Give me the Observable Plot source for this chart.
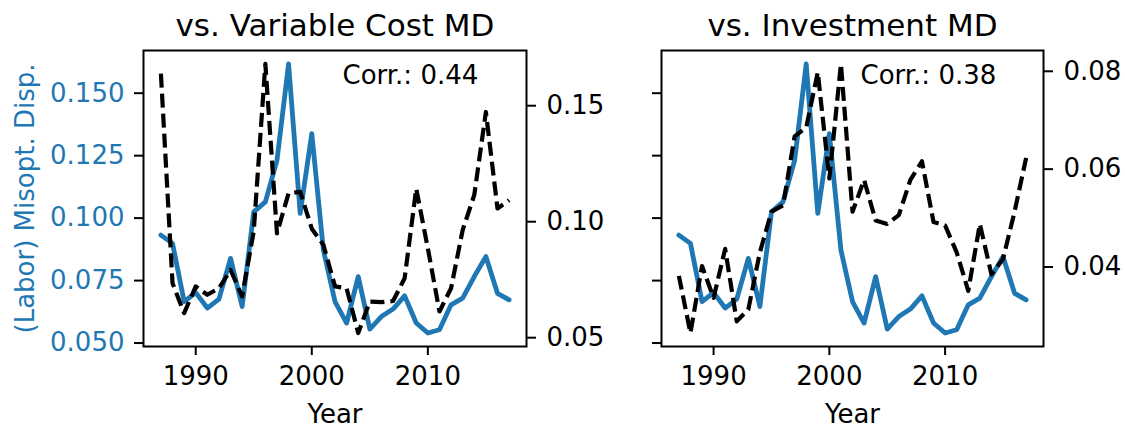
<!DOCTYPE html>
<html><head><meta charset="utf-8">
<script src="https://cdn.jsdelivr.net/npm/d3@7"></script>
<script src="https://cdn.jsdelivr.net/npm/@observablehq/plot@0.6"></script>
<style>
body{margin:0;background:#fff;}
#chart{position:relative;width:1125px;height:428px;background:#fff;}
#chart svg{position:absolute;left:0;top:0;}
</style></head><body><div id="chart"></div>
<script>
// ---- data ----
const years = [1987,1988,1989,1990,1991,1992,1993,1994,1995,1996,1997,1998,1999,2000,2001,2002,2003,2004,2005,2006,2007,2008,2009,2010,2011,2012,2013,2014,2015,2016,2017];
const misoptDisp = [0.0932,0.0899,0.0666,0.0702,0.0640,0.0676,0.0839,0.0646,0.1025,0.1065,0.1231,0.1617,0.1019,0.1338,0.0872,0.0666,0.0580,0.0766,0.0556,0.0606,0.0636,0.0689,0.0580,0.0540,0.0553,0.0653,0.0680,0.0766,0.0846,0.0699,0.0673];
const variableCostMD = [0.1638,0.0735,0.0606,0.0721,0.0685,0.0713,0.0792,0.0678,0.0960,0.1680,0.0950,0.1122,0.1129,0.0970,0.0900,0.0721,0.0713,0.0520,0.0656,0.0653,0.0658,0.0756,0.1143,0.0885,0.0613,0.0713,0.0964,0.1115,0.1473,0.1057,0.1093];
const investmentMD = [0.0382,0.0265,0.0402,0.0337,0.0437,0.0289,0.0313,0.0430,0.0513,0.0526,0.0667,0.0685,0.0798,0.0581,0.0815,0.0513,0.0578,0.0495,0.0488,0.0506,0.0578,0.0616,0.0492,0.0485,0.0430,0.0351,0.0488,0.0385,0.0416,0.0513,0.0623];
const titles = ["vs. Variable Cost MD", "vs. Investment MD"];
const corrs = [0.44, 0.38];
const xTicks = [1990, 2000, 2010];
const leftTicks = [0.05, 0.075, 0.10, 0.125, 0.15];
const rightTicksVC = [0.05, 0.10, 0.15];
const rightTicksInv = [0.04, 0.06, 0.08];
const yLabel = "(Labor) Misopt. Disp.";
const xLabel = "Year";

// ---- layout ----
const W = 1125, H = 428;
const BLUE = "#1f77b4";
const FONT = "DejaVu Sans";
const style = {fontFamily: FONT, fontSize: "26px", background: "transparent", overflow: "visible", color: "black"};
const pad = ext => { const r = ext[1] - ext[0]; return [ext[0] - 0.05 * r, ext[1] + 0.05 * r]; };
const xDomain = pad(d3.extent(years));
const blueDomain = pad(d3.extent(misoptDisp));
const blueRows = years.map((y, i) => ({year: y, v: misoptDisp[i]}));

const panels = [
  {title: titles[0], md: variableCostMD, corr: corrs[0], rightTicks: rightTicksVC, ml: 143, mr: 599, labels: true},
  {title: titles[1], md: investmentMD, corr: corrs[1], rightTicks: rightTicksInv, ml: 661, mr: 82, labels: false}
];
const chart = document.getElementById("chart");

for (const p of panels) {
  const dims = {width: W, height: H, marginLeft: p.ml, marginRight: p.mr, marginTop: 50, marginBottom: 82, style};
  const base = Plot.plot({
    ...dims,
    x: {domain: xDomain, axis: null},
    y: {domain: blueDomain, axis: null},
    marks: [
      Plot.lineY(blueRows, {x: "year", y: "v", stroke: BLUE, strokeWidth: 4.8}),
      Plot.axisX({ticks: xTicks, tickFormat: "d", tickSize: 9, tickPadding: 11, strokeWidth: 2, label: null}),
      Plot.axisY({ticks: leftTicks, tickFormat: p.labels ? d3.format(".3f") : () => "", tickSize: 9, tickPadding: 10, strokeWidth: 2, fill: BLUE, label: null}),
      Plot.frame({stroke: "black", strokeWidth: 2}),
      Plot.text([p.title], {text: d => d, frameAnchor: "top", dy: -15, lineAnchor: "bottom", fontSize: 31, fill: "black"}),
      Plot.text([xLabel], {text: d => d, frameAnchor: "bottom", dy: 76.7, lineAnchor: "bottom", fill: "black"}),
      Plot.text([`Corr.: ${p.corr.toFixed(2)}`], {text: d => d, frameAnchor: "top-left", dx: 199, dy: 33.3, lineAnchor: "bottom", textAnchor: "start", fill: "black"}),
      p.labels ? Plot.text([yLabel], {text: d => d, frameAnchor: "left", dx: -110, rotate: -90, lineAnchor: "bottom", textAnchor: "middle", fill: BLUE}) : null
    ]
  });
  chart.appendChild(base);

  const mdRows = years.map((y, i) => ({year: y, v: p.md[i]}));
  const over = Plot.plot({
    ...dims,
    x: {domain: xDomain, axis: null},
    y: {domain: pad(d3.extent(p.md)), axis: null},
    marks: [
      Plot.lineY(mdRows, {x: "year", y: "v", stroke: "black", strokeWidth: 4.2, strokeDasharray: "14,6", strokeLinecap: "butt"}),
      Plot.axisY({anchor: "right", ticks: p.rightTicks, tickFormat: d3.format(".2f"), tickSize: 9, tickPadding: 11, strokeWidth: 2, label: null})
    ]
  });
  chart.appendChild(over);
}
</script></body></html>
